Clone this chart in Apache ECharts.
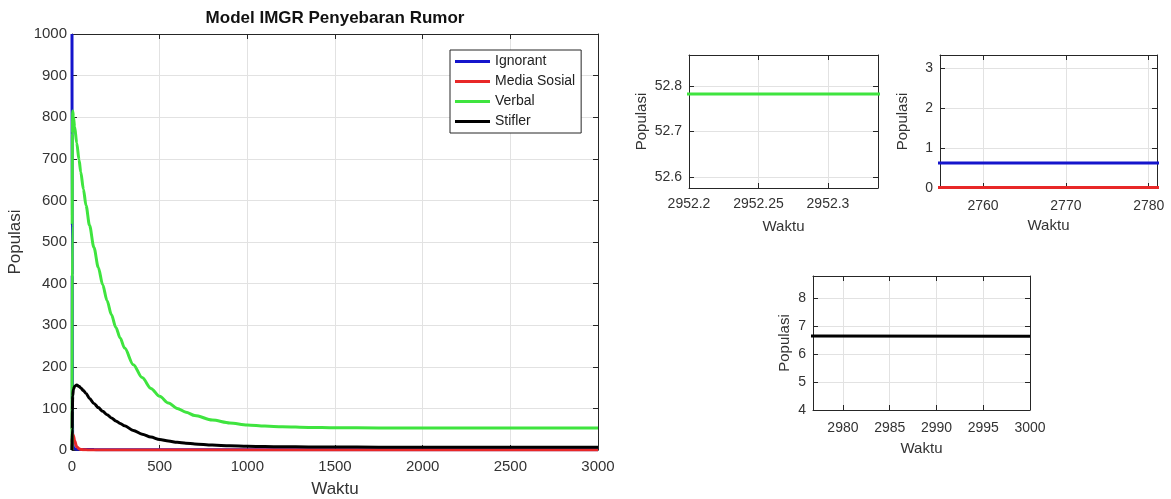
<!DOCTYPE html>
<html>
<head>
<meta charset="utf-8">
<script src="https://cdn.jsdelivr.net/npm/echarts@6/dist/echarts.min.js"></script>
<style>
html,body{margin:0;padding:0;background:#fff;}
#c{width:1171px;height:499px;}
</style>
</head>
<body>
<div id="c"></div>
<script>
// ---- data ----
var seriesNames = ['Ignorant', 'Media Sosial', 'Verbal', 'Stifler'];
var waktu = [0, 1, 2, 4, 8, 15, 27, 40, 50, 65,
             80, 100, 125, 150, 175, 200, 225, 250, 275, 300,
             350, 400, 450, 500, 550, 600, 650, 700, 800, 900,
             1000, 1100, 1200, 1350, 1500, 1750, 2000, 2500, 3000];
var ignorant = [1000, 420, 120, 20, 6, 3, 2, 1.6, 1.4, 1.25,
                1.1, 1.0, 0.92, 0.86, 0.82, 0.78, 0.76, 0.74, 0.72, 0.71,
                0.69, 0.68, 0.67, 0.66, 0.655, 0.65, 0.645, 0.64, 0.635, 0.63,
                0.63, 0.628, 0.626, 0.625, 0.625, 0.625, 0.625, 0.625, 0.625];
var mediaSosial = [0, 18, 30, 38, 35, 22, 8, 3, 1.5, 0.7,
                   0.35, 0.15, 0.07, 0.04, 0.03, 0.02, 0.015, 0.01, 0.01, 0.01,
                   0.01, 0.01, 0.01, 0.01, 0.01, 0.01, 0.01, 0.01, 0.01, 0.01,
                   0.01, 0.01, 0.01, 0.01, 0.01, 0.01, 0.01, 0.01, 0.01];
var verbal = [0, 540, 760, 815, 801, 777, 738, 698, 668, 627,
              588, 540, 487, 439, 397, 359, 325, 295, 269, 245,
              205, 174, 148, 129, 113, 100, 91, 83, 72, 65,
              60, 57.5, 55.7, 54.3, 53.5, 53.0, 52.9, 52.8, 52.78];
var stifler = [0, 50, 95, 130, 146, 153, 156, 153, 149, 143,
               136, 124, 112, 102, 93, 85, 77, 70, 64, 58,
               47, 38, 31, 25, 21.5, 18.5, 16.3, 14.5, 11.8, 10,
               9, 8.3, 7.8, 7.3, 7.1, 6.85, 6.75, 6.66, 6.64];
var colors = ['#1515cc', '#e82828', '#3fe43f', '#000000'];
var mainXTicks = {min: 0, max: 3000, interval: 500};
var mainYTicks = {min: 0, max: 1000, interval: 100};

function pairs(xs, ys) { return xs.map(function (x, i) { return [x, ys[i]]; }); }
var allValues = [ignorant, mediaSosial, verbal, stifler];

var FONT = 'Liberation Sans, Arial, Helvetica, sans-serif';
var AX = '#262626';
var GRIDC = '#e2e2e2';
function plain(v) { return String(+v.toFixed(6)); }

function lbl(o) {
  return Object.assign({color: '#333', fontFamily: FONT, fontSize: 14, formatter: plain}, o);
}
function bottomAxis(gi, o) {
  return Object.assign({
    type: 'value', gridIndex: gi, position: 'bottom',
    axisLine: {show: true, onZero: false, lineStyle: {color: AX, width: 1}},
    axisTick: {show: true, inside: true, length: 5, lineStyle: {color: AX}},
    splitLine: {show: true, lineStyle: {color: GRIDC, width: 1}},
    nameLocation: 'middle', nameTextStyle: {color: '#333', fontFamily: FONT, fontSize: 15}
  }, o);
}
function topAxis(gi, o) {
  return Object.assign({
    type: 'value', gridIndex: gi, position: 'top',
    axisLine: {show: true, onZero: false, lineStyle: {color: AX, width: 1}},
    axisTick: {show: true, inside: true, length: 5, lineStyle: {color: AX}},
    axisLabel: {show: false}, splitLine: {show: false}
  }, o);
}
function leftAxis(gi, o) {
  return Object.assign({
    type: 'value', gridIndex: gi, position: 'left',
    axisLine: {show: true, onZero: false, lineStyle: {color: AX, width: 1}},
    axisTick: {show: true, inside: true, length: 5, lineStyle: {color: AX}},
    splitLine: {show: true, lineStyle: {color: GRIDC, width: 1}},
    nameLocation: 'middle', nameTextStyle: {color: '#333', fontFamily: FONT, fontSize: 15}
  }, o);
}
function rightAxis(gi, o) {
  return Object.assign({
    type: 'value', gridIndex: gi, position: 'right',
    axisLine: {show: true, onZero: false, lineStyle: {color: AX, width: 1}},
    axisTick: {show: true, inside: true, length: 5, lineStyle: {color: AX}},
    axisLabel: {show: false}, splitLine: {show: false}
  }, o);
}

var mainX = {min: mainXTicks.min, max: mainXTicks.max, interval: mainXTicks.interval};
var mainY = {min: mainYTicks.min, max: mainYTicks.max, interval: mainYTicks.interval};
var c1X = {min: 2952.2, max: 2952.336, interval: 0.05};
var c1Y = {min: 52.576, max: 52.868, splitNumber: 3};
var c2X = {min: 2754.8, max: 2781, splitNumber: 3};
var c2Y = {min: 0, max: 3.33, interval: 1};
var c3X = {min: 2976.8, max: 3000, splitNumber: 5};
var c3Y = {min: 4, max: 8.79, interval: 1};

var xAxes = [
  bottomAxis(0, Object.assign({name: 'Waktu', nameGap: 31, nameTextStyle: {color: '#333', fontFamily: FONT, fontSize: 17},
    axisLabel: lbl({fontSize: 15, margin: 9})}, mainX)),
  topAxis(0, mainX),
  bottomAxis(1, Object.assign({name: 'Waktu', nameGap: 31, axisLabel: lbl({margin: 9, showMaxLabel: false})}, c1X)),
  topAxis(1, c1X),
  bottomAxis(2, Object.assign({name: 'Waktu', nameGap: 30, axisLabel: lbl({margin: 11, showMinLabel: false, showMaxLabel: false})}, c2X)),
  topAxis(2, c2X),
  bottomAxis(3, Object.assign({name: 'Waktu', nameGap: 31, axisLabel: lbl({margin: 11, showMinLabel: false, showMaxLabel: true})}, c3X)),
  topAxis(3, c3X)
];
var yAxes = [
  leftAxis(0, Object.assign({name: 'Populasi', nameGap: 48, nameTextStyle: {color: '#333', fontFamily: FONT, fontSize: 17},
    axisLabel: lbl({fontSize: 15, margin: 5})}, mainY)),
  rightAxis(0, mainY),
  leftAxis(1, Object.assign({name: 'Populasi', nameGap: 40, axisLabel: lbl({margin: 7, showMinLabel: false, showMaxLabel: false})}, c1Y)),
  rightAxis(1, c1Y),
  leftAxis(2, Object.assign({name: 'Populasi', nameGap: 30, axisLabel: lbl({margin: 7, showMaxLabel: false})}, c2Y)),
  rightAxis(2, c2Y),
  leftAxis(3, Object.assign({name: 'Populasi', nameGap: 21, axisLabel: lbl({margin: 7, showMaxLabel: false})}, c3Y)),
  rightAxis(3, c3Y)
];

function lineSeries(i, xi, yi) {
  return {
    type: 'line', name: seriesNames[i], xAxisIndex: xi, yAxisIndex: yi,
    data: pairs(waktu, allValues[i]), showSymbol: false, symbol: 'none',
    smooth: 0.3, smoothMonotone: 'x',
    clip: true, lineStyle: {color: colors[i], width: 3}, itemStyle: {color: colors[i]},
    emphasis: {disabled: true}
  };
}

var series = [
  lineSeries(0, 0, 0), lineSeries(1, 0, 0), lineSeries(2, 0, 0), lineSeries(3, 0, 0),
  lineSeries(2, 2, 2),
  lineSeries(0, 4, 4), lineSeries(1, 4, 4),
  lineSeries(3, 6, 6)
];

var gridBase = {containLabel: false, outerBoundsMode: 'none'};
var option = {
  animation: false,
  backgroundColor: '#ffffff',
  title: {
    text: 'Model IMGR Penyebaran Rumor', left: 335, top: 10, padding: 0, textAlign: 'center',
    textStyle: {fontFamily: FONT, fontSize: 17, fontWeight: 'bold', color: '#111'}
  },
  legend: {
    data: seriesNames, orient: 'vertical', left: 450, top: 50,
    padding: [3, 6, 3, 5], itemGap: 3, itemWidth: 35, itemHeight: 3, icon: 'rect',
    backgroundColor: '#ffffff', borderColor: AX, borderWidth: 1,
    textStyle: {fontFamily: FONT, fontSize: 14, color: '#222', lineHeight: 17},
    selectedMode: false
  },
  grid: [
    Object.assign({left: 72, top: 34, width: 526, height: 416}, gridBase),
    Object.assign({left: 689, top: 55, width: 189, height: 133}, gridBase),
    Object.assign({left: 940, top: 55, width: 217, height: 133}, gridBase),
    Object.assign({left: 813, top: 276, width: 217, height: 134}, gridBase)
  ],
  xAxis: xAxes,
  yAxis: yAxes,
  series: series
};

var chart = echarts.init(document.getElementById('c'), null, {renderer: 'canvas'});
chart.setOption(option);
</script>
</body>
</html>
